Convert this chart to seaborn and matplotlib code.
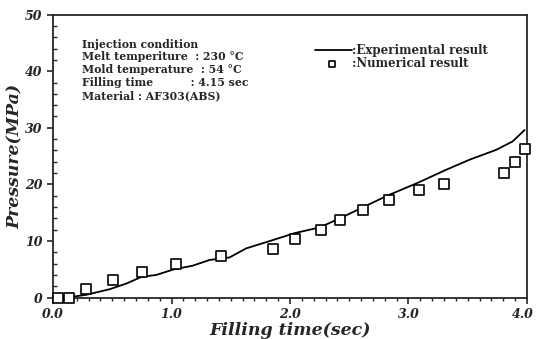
import matplotlib.pyplot as plt
import seaborn as sns
from matplotlib.ticker import MultipleLocator
from matplotlib.transforms import ScaledTranslation

# experimental curve
exp_t = [0.0, 0.11, 0.28, 0.48, 0.62, 0.75, 0.87, 1.02, 1.18, 1.32, 1.49, 1.63,
         1.83, 2.04, 2.25, 2.42, 2.62, 2.82, 3.07, 3.32, 3.52, 3.74, 3.88, 3.98]
exp_p = [0.0, 0.0, 0.5, 1.5, 2.5, 3.7, 4.0, 5.0, 5.65, 6.65, 7.1, 8.7,
         10.0, 11.4, 12.4, 14.0, 16.0, 18.0, 20.2, 22.6, 24.4, 26.1, 27.6, 29.6]

# numerical result
num_t = [0.04, 0.135, 0.28, 0.51, 0.75, 1.04, 1.42, 1.86, 2.04, 2.26, 2.42,
         2.62, 2.84, 3.09, 3.30, 3.81, 3.90, 3.98]
num_p = [0.0, 0.0, 1.5, 3.1, 4.6, 5.9, 7.3, 8.6, 10.4, 11.9, 13.7,
         15.5, 17.3, 19.0, 20.1, 22.0, 24.0, 26.3]

sns.set_style("ticks")
plt.rcParams['font.family'] = ['DejaVu Serif']

fig = plt.figure(figsize=(5.36, 3.39), dpi=100)
ax = fig.add_axes([0.099, 0.122, 0.884, 0.835])

sns.lineplot(x=exp_t, y=exp_p, ax=ax, color='black', linewidth=1.3)
sns.scatterplot(x=num_t, y=num_p, ax=ax, marker='s', s=50, facecolor='white',
                edgecolor='black', linewidth=1.2, clip_on=False, zorder=3)

ax.set_xlim(0, 4.0)
ax.set_ylim(0, 50)
ax.xaxis.set_minor_locator(MultipleLocator(0.1))
ax.yaxis.set_major_locator(MultipleLocator(10))
ax.yaxis.set_minor_locator(MultipleLocator(2))
ax.set_xticks([0, 1, 2, 3, 4])
ax.set_xticklabels(['0.0', '1.0', '2.0', '3.0', '4.0'])
ax.tick_params(axis='both', which='major', length=4, width=1.2, labelsize=9)
ax.tick_params(axis='x', which='minor', length=2.5, width=1.0)
ax.tick_params(axis='y', which='minor', direction='in', length=3, width=1.0)
for lab in ax.get_xticklabels() + ax.get_yticklabels():
    lab.set_fontstyle('italic')
    lab.set_fontweight('bold')
last = ax.get_xticklabels()[-1]
last.set_transform(last.get_transform() + ScaledTranslation(-4 / 100, 0, fig.dpi_scale_trans))
for sp in ax.spines.values():
    sp.set_linewidth(1.3)
    sp.set_visible(True)

ax.set_xlabel('Filling time(sec)', fontsize=12.5, fontstyle='italic',
              fontweight='bold', labelpad=1)
ax.set_ylabel('Pressure(MPa)', fontsize=12.5, fontstyle='italic',
              fontweight='bold', labelpad=1)

info = ("Injection condition\n"
        "Melt temperiture  : 230 \u00b0C\n"
        "Mold temperature  : 54 \u00b0C\n"
        "Filling time          : 4.15 sec\n"
        "Material : AF303(ABS)")
ax.text(0.061, 0.915, info, transform=ax.transAxes, fontsize=7.8,
        fontweight='bold', va='top', ha='left', linespacing=1.2)

ax.plot([0.553, 0.631], [0.874, 0.874], transform=ax.transAxes,
        color='black', linewidth=1.3)
ax.text(0.631, 0.874, ':Experimental result', transform=ax.transAxes,
        fontsize=8.5, fontweight='bold', va='center', ha='left')
ax.scatter([0.589], [0.826], transform=ax.transAxes, marker='s', s=22,
           facecolor='white', edgecolor='black', linewidth=1.2)
ax.text(0.631, 0.826, ':Numerical result', transform=ax.transAxes,
        fontsize=8.5, fontweight='bold', va='center', ha='left')

fig.savefig('out.png', dpi=100)
